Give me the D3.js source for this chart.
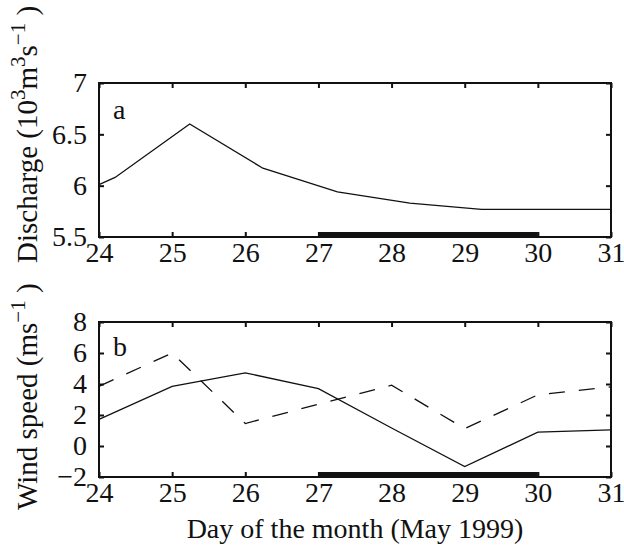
<!DOCTYPE html>
<html>
<head>
<meta charset="utf-8">
<script src="https://cdn.jsdelivr.net/npm/d3@7"></script>
<style>
  html, body { margin: 0; padding: 0; background: #fff; }
  svg { display: block; }
  text { font-family: "Liberation Serif", "Times New Roman", serif; fill: #111; }
</style>
</head>
<body>
<svg id="chart" width="624" height="552"></svg>
<script>
// ---- Data ----
const dayTicks = [24, 25, 26, 27, 28, 29, 30, 31];
const dischargeDays = [24, 24.22, 25.24, 26.24, 27.26, 28.25, 29.23, 31];
const dischargeValues = [6.01, 6.08, 6.60, 6.17, 5.94, 5.83, 5.77, 5.77];
const dischargeTicks = [5.5, 6, 6.5, 7];
const windDays = [24, 25, 26, 27, 28, 29, 30, 31];
const windSolid = [1.72, 3.85, 4.72, 3.70, 1.16, -1.33, 0.90, 1.04];
const windDashed = [3.85, 6.0, 1.45, 2.70, 3.92, 1.12, 3.30, 3.82];
const windTicks = [-2, 0, 2, 4, 6, 8];
const calmPeriod = [27, 30];

const svg = d3.select("#chart");
const left = 99, right = 611;
const x = d3.scaleLinear().domain([24, 31]).range([left, right]);
const TICK_FS = 28;

function panel(opts) {
  const { top, bottom, ydom, yticks, yfmt, label } = opts;
  const y = d3.scaleLinear().domain(ydom).range([bottom, top]);
  const g = svg.append("g");

  const bx = g.append("g").attr("transform", `translate(0,${bottom})`)
    .call(d3.axisBottom(x).tickValues(dayTicks).tickSizeInner(-5).tickSizeOuter(0).tickPadding(5).tickFormat(d3.format("d")));
  bx.select(".domain").remove();
  bx.attr("font-size", null).attr("font-family", null);
  bx.selectAll("line").attr("stroke", "#111").attr("stroke-width", 2);
  bx.selectAll("text").attr("font-size", TICK_FS).attr("fill", "#111").attr("dy", "0.72em");

  const tx = g.append("g").attr("transform", `translate(0,${top})`)
    .call(d3.axisTop(x).tickValues(dayTicks).tickSizeInner(-5).tickSizeOuter(0).tickFormat(""));
  tx.select(".domain").remove();
  tx.selectAll("line").attr("stroke", "#111").attr("stroke-width", 2);

  const ly = g.append("g").attr("transform", `translate(${left},0)`)
    .call(d3.axisLeft(y).tickValues(yticks).tickSizeInner(-5).tickSizeOuter(0).tickPadding(12).tickFormat(yfmt));
  ly.select(".domain").remove();
  ly.attr("font-size", null).attr("font-family", null);
  ly.selectAll("line").attr("stroke", "#111").attr("stroke-width", 2);
  ly.selectAll("text").attr("font-size", TICK_FS).attr("fill", "#111");

  const ry = g.append("g").attr("transform", `translate(${right},0)`)
    .call(d3.axisRight(y).tickValues(yticks).tickSizeInner(-5).tickSizeOuter(0).tickFormat(""));
  ry.select(".domain").remove();
  ry.selectAll("line").attr("stroke", "#111").attr("stroke-width", 2);

  g.append("rect")
    .attr("x", x(calmPeriod[0])).attr("width", x(calmPeriod[1]) - x(calmPeriod[0]))
    .attr("y", bottom - 5).attr("height", 5).attr("fill", "#111");

  g.append("rect").attr("x", left).attr("y", top).attr("width", right - left).attr("height", bottom - top)
    .attr("fill", "none").attr("stroke", "#111").attr("stroke-width", 2);

  g.append("text").attr("x", 113).attr("y", opts.letterY).attr("font-size", 28).text(label);
  return y;
}

const ya = panel({ top: 83, bottom: 237, ydom: [5.5, 7], yticks: dischargeTicks,
  yfmt: d => String(d), label: "a", letterY: 119 });
const lineA = d3.line().x((d, i) => x(dischargeDays[i])).y(d => ya(d));
svg.append("path").datum(dischargeValues).attr("d", lineA)
  .attr("fill", "none").attr("stroke", "#111").attr("stroke-width", 1.3);

const yb = panel({ top: 322, bottom: 477, ydom: [-2, 8], yticks: windTicks,
  yfmt: d => d < 0 ? "\u2212" + Math.abs(d) : String(d), label: "b", letterY: 356 });
const lineB = d3.line().x((d, i) => x(windDays[i])).y(d => yb(d));
svg.append("path").datum(windSolid).attr("d", lineB)
  .attr("fill", "none").attr("stroke", "#111").attr("stroke-width", 1.3);
svg.append("path").datum(windDashed).attr("d", lineB)
  .attr("fill", "none").attr("stroke", "#111").attr("stroke-width", 1.3)
  .attr("stroke-dasharray", "16,14");

const la = svg.append("text").attr("transform", "translate(37,263) rotate(-90)")
  .attr("font-size", 29).attr("text-anchor", "start");
la.append("tspan").text("Discharge (10");
la.append("tspan").attr("font-size", 21).attr("dy", -12).text("3");
la.append("tspan").attr("dy", 12).text("m");
la.append("tspan").attr("font-size", 21).attr("dy", -12).text("3");
la.append("tspan").attr("dy", 12).text("s");
la.append("tspan").attr("font-size", 21).attr("dy", -12).text("\u22121");
la.append("tspan").attr("dy", 12).text(" )");

const lb = svg.append("text").attr("transform", "translate(37,510) rotate(-90)")
  .attr("font-size", 29).attr("text-anchor", "start");
lb.append("tspan").text("Wind speed (ms");
lb.append("tspan").attr("font-size", 21).attr("dy", -12).text("\u22121");
lb.append("tspan").attr("dy", 12).text(" )");

svg.append("text").attr("x", (left + right) / 2).attr("y", 538)
  .attr("text-anchor", "middle").attr("font-size", 28).text("Day of the month (May 1999)");
</script>
</body>
</html>
